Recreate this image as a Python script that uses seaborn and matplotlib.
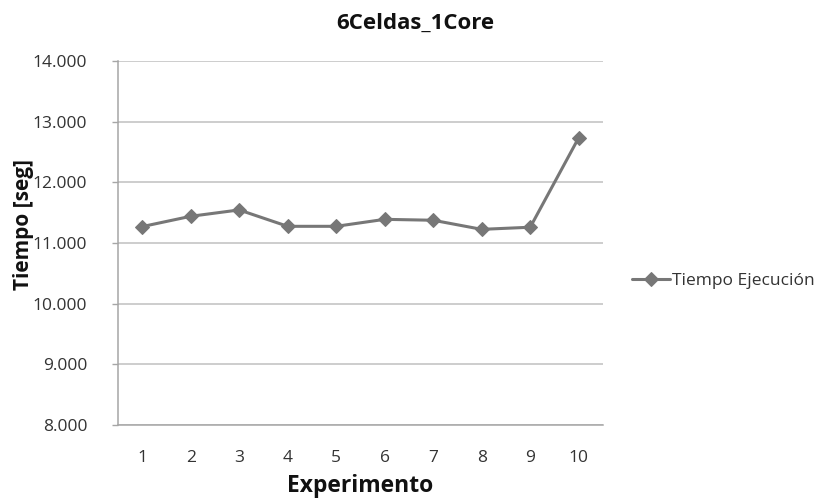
import matplotlib
matplotlib.use("Agg")
import matplotlib.pyplot as plt
import matplotlib.ticker as mticker
import seaborn as sns
import pandas as pd

experimentos = [1, 2, 3, 4, 5, 6, 7, 8, 9, 10]
tiempos = [11270, 11440, 11545, 11275, 11275, 11390, 11375, 11225, 11260, 12735]
y_ticks = [8000, 9000, 10000, 11000, 12000, 13000, 14000]

df = pd.DataFrame({"Experimento": experimentos, "Tiempo": tiempos})

sns.set_theme(style="white")
plt.rcParams["font.family"] = ["Open Sans", "DejaVu Sans"]

fig = plt.figure(figsize=(8.3, 4.99), dpi=100)
ax = fig.add_axes([0.142, 0.148, 0.5845, 0.730])

line_color = "#777777"
sns.lineplot(data=df, x="Experimento", y="Tiempo", ax=ax, color=line_color,
             linewidth=2.2, marker="D", markersize=7, markeredgecolor=line_color,
             label="Tiempo Ejecución")

ax.set_xlim(0.5, 10.5)
ax.set_ylim(8000, 14000)
ax.set_yticks(y_ticks)
ax.set_xticks(experimentos)
ax.yaxis.set_major_formatter(mticker.FuncFormatter(
    lambda v, p: f"{int(v):,}".replace(",", ".")))
ax.grid(axis="y", color="#c0c0c0", linewidth=1.1)
ax.set_axisbelow(True)

for side in ("top", "right"):
    ax.spines[side].set_visible(False)
for side in ("left", "bottom"):
    ax.spines[side].set_color("#a6a6a6")
    ax.spines[side].set_linewidth(1.1)

ax.tick_params(axis="y", which="major", left=True, length=4, width=1,
               color="#a6a6a6", labelsize=12.5, labelcolor="#333333", pad=18)
ax.tick_params(axis="x", which="major", bottom=False, labelsize=12.5,
               labelcolor="#333333", pad=12)

ax.set_xlabel("Experimento", fontsize=16.5, fontweight="bold", color="#111111", labelpad=6)
ax.set_ylabel("Tiempo [seg]", fontsize=15, fontweight="bold", color="#111111")
ax.yaxis.set_label_coords(-0.172, 0.55)

# Chart title centred on the whole figure
fig.text(0.5, 1 - 23 / 499, "6Celdas_1Core", ha="center", va="center",
         fontsize=16, fontweight="bold", color="#111111")

leg = ax.legend(loc="center left", bbox_to_anchor=(1.06, 0.396), frameon=False,
                borderaxespad=0, borderpad=0, fontsize=12.5, handlelength=2.2,
                handletextpad=0.1, labelcolor="#333333")

fig.savefig("out.png", dpi=100, facecolor="white")
